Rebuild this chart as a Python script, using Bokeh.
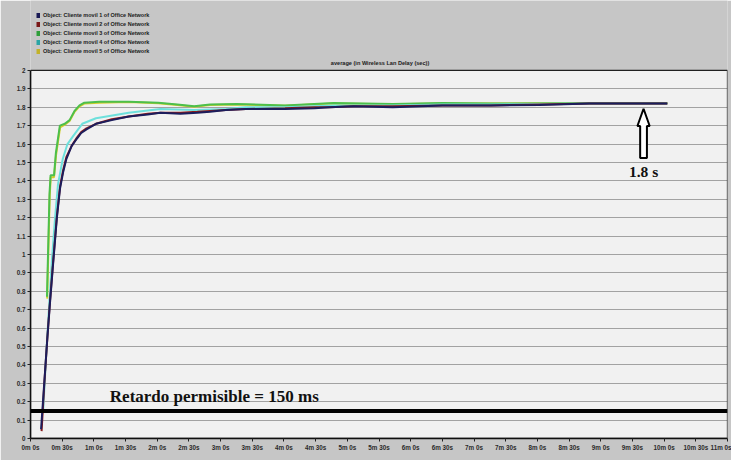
from bokeh.plotting import figure
from bokeh.models import FixedTicker, Label, Span, Legend, LegendItem, Range1d
from bokeh.embed import file_html
from bokeh.resources import INLINE

# ---------------- data (time in seconds, delay in seconds) ----------------
SERIES_NAMES = [
    "Object: Cliente movil 1 of Office Network",
    "Object: Cliente movil 2 of Office Network",
    "Object: Cliente movil 3 of Office Network",
    "Object: Cliente movil 4 of Office Network",
    "Object: Cliente movil 5 of Office Network",
]

T1 = [10, 13, 16, 18.5, 21, 25, 28, 31, 34, 39, 44, 48, 53, 62, 77, 93, 111, 123, 142, 158,
      170, 185, 204, 241, 269, 283, 306, 343, 390, 436, 482, 529, 575, 603]
V1 = [0.05, 0.30, 0.55, 0.74, 0.92, 1.20, 1.36, 1.45, 1.52, 1.59, 1.63, 1.66, 1.68, 1.71, 1.73,
      1.75, 1.76, 1.77, 1.765, 1.77, 1.775, 1.785, 1.79, 1.79, 1.795, 1.80, 1.805, 1.80, 1.81,
      1.81, 1.812, 1.82, 1.82, 1.82]

T2 = [10.5, 13, 16, 18.5, 21, 25, 28, 31, 34, 39, 44, 48, 53, 62, 77, 93, 111, 123, 142, 158,
      170, 185, 204, 241, 269, 283, 306, 343, 390, 436, 482, 529, 575, 603]
V2 = [0.04, 0.29, 0.55, 0.75, 0.93, 1.21, 1.37, 1.46, 1.53, 1.59, 1.635, 1.665, 1.685, 1.71,
      1.735, 1.75, 1.765, 1.77, 1.77, 1.775, 1.78, 1.785, 1.79, 1.795, 1.80, 1.80, 1.805, 1.805,
      1.81, 1.81, 1.815, 1.82, 1.82, 1.82]

T3 = [15.6, 18, 19, 22.3, 24, 27.8, 32.5, 37, 41.7, 46.4, 51, 65, 93, 121, 139, 155, 170, 195,
      241, 287, 343, 390, 436, 529, 603]
V3 = [0.77, 1.33, 1.43, 1.43, 1.55, 1.70, 1.71, 1.73, 1.78, 1.81, 1.825, 1.83, 1.83, 1.825,
      1.815, 1.805, 1.815, 1.818, 1.81, 1.823, 1.818, 1.823, 1.82, 1.822, 1.822]

T4 = [12, 14.8, 17.6, 20.4, 23, 26, 30.6, 35, 40, 49, 62, 93, 123, 155, 185, 204, 241, 287, 343,
      390, 436, 529, 603]
V4 = [0.15, 0.45, 0.72, 0.98, 1.18, 1.38, 1.52, 1.60, 1.64, 1.71, 1.74, 1.77, 1.79, 1.785, 1.79,
      1.80, 1.80, 1.81, 1.81, 1.815, 1.815, 1.82, 1.82]

T5 = [15.8, 18.2, 19.2, 22.3, 24.2, 28, 32.5, 37, 41.7, 46.4, 51, 65, 93, 121, 139, 155, 170,
      195, 241, 287, 343, 390, 436, 529, 603]
V5 = [0.76, 1.32, 1.42, 1.42, 1.54, 1.69, 1.705, 1.725, 1.775, 1.805, 1.82, 1.825, 1.828, 1.822,
      1.812, 1.803, 1.812, 1.815, 1.808, 1.82, 1.816, 1.82, 1.82, 1.821, 1.821]

THRESHOLD = 0.15  # 150 ms

X_MAX = 660
Y_MAX = 2.0
X_TICKS = [0, 30, 60, 90, 120, 150, 180, 210, 240, 270, 300, 330, 360, 390, 420, 450, 480, 510,
           540, 570, 600, 630, 660]
X_TICK_LABELS = ["0m 0s", "0m 30s", "1m 0s", "1m 30s", "2m 0s", "2m 30s", "3m 0s", "3m 30s",
                 "4m 0s", "4m 30s", "5m 0s", "5m 30s", "6m 0s", "6m 30s", "7m 0s", "7m 30s",
                 "8m 0s", "8m 30s", "9m 0s", "9m 30s", "10m 0s", "10m 30s", "11m 0s"]
Y_TICKS = [0.0, 0.1, 0.2, 0.3, 0.4, 0.5, 0.6, 0.7, 0.8, 0.9, 1.0, 1.1, 1.2, 1.3, 1.4, 1.5, 1.6,
           1.7, 1.8, 1.9, 2.0]
Y_TICK_LABELS = ["0", "0.1", "0.2", "0.3", "0.4", "0.5", "0.6", "0.7", "0.8", "0.9", "1", "1.1",
                 "1.2", "1.3", "1.4", "1.5", "1.6", "1.7", "1.8", "1.9", "2"]

LINE_COLORS = ["#1c1d5c", "#8a1c1c", "#4cbf4c", "#6ee0dc", "#d6cf2a"]
SWATCH_COLORS = ["#1a1a55", "#7a1818", "#2f9e3a", "#2aa5a5", "#c2b22a"]

PANEL_GREY = "#c6c6c6"
PLOT_BG = "#f1f1f1"

# ---------------- figure ----------------
# the frame extends above the data area (y > 2) so that legend and title live inside it
p = figure(width=731, height=460, output_backend="svg", toolbar_location=None,
           x_range=Range1d(0, X_MAX), y_range=Range1d(0, 2.38),
           min_border_left=30, min_border_right=4, min_border_top=0, min_border_bottom=22)
p.title.visible = False
p.background_fill_color = PANEL_GREY
p.border_fill_color = PANEL_GREY
p.outline_line_color = None

# light plotting area (under the grid)
bg = p.quad(left=[0], right=[X_MAX], bottom=[0], top=[Y_MAX], fill_color=PLOT_BG, line_color=None)
bg.level = "image"

p.xgrid.visible = False
p.ygrid.ticker = FixedTicker(ticks=Y_TICKS[1:-1])
p.ygrid.grid_line_color = "#a2a2a2"
p.ygrid.grid_line_width = 1.2

p.xaxis.ticker = FixedTicker(ticks=X_TICKS)
p.xaxis.major_label_overrides = dict(zip(X_TICKS, X_TICK_LABELS))
p.yaxis.ticker = FixedTicker(ticks=Y_TICKS)
p.yaxis.major_label_overrides = dict(zip(Y_TICKS, Y_TICK_LABELS))
p.yaxis.bounds = (0, Y_MAX)
for ax in (p.xaxis, p.yaxis):
    ax.axis_line_color = "#101010"
    ax.axis_line_width = 1.5
    ax.major_tick_in = 0
    ax.major_tick_out = 3
    ax.minor_tick_line_color = None
    ax.major_tick_line_color = "#202020"
    ax.major_label_text_font = "Liberation Sans"
    ax.major_label_text_font_style = "bold"
    ax.major_label_text_font_size = "6.3px"
    ax.major_label_text_color = "#2a2a2a"
    ax.major_label_standoff = 2

# ---------------- series ----------------
data = [(T1, V1), (T2, V2), (T3, V3), (T4, V4), (T5, V5)]
for idx in [4, 2, 3, 1, 0]:
    t, v = data[idx]
    p.line(t, v, line_color=LINE_COLORS[idx], line_width=2)

# threshold line
p.add_layout(Span(location=THRESHOLD, dimension="width", line_color="black", line_width=4))

# border of the plotting area
p.quad(left=[0], right=[X_MAX], bottom=[0], top=[Y_MAX], fill_alpha=0,
       line_color="#202020", line_width=1.3)

# ---------------- legend (colour swatches) ----------------
# one-point lines draw nothing in the plot; their thick legend glyph forms the swatch
items = []
for i, name in enumerate(SERIES_NAMES):
    t, v = data[i]
    r = p.line(x=t[:1], y=v[:1], line_color=SWATCH_COLORS[i], line_width=5)
    items.append(LegendItem(label=name, renderers=[r]))
legend = Legend(items=items, location=(6, 383.5), orientation="vertical",
                glyph_width=4, glyph_height=8, label_height=8, spacing=1,
                padding=0, margin=0, label_standoff=3,
                label_text_font="Liberation Sans", label_text_font_style="bold",
                label_text_font_size="5.5px", label_text_color="#202020",
                background_fill_alpha=0, border_line_alpha=0)
p.add_layout(legend)

# ---------------- annotations ----------------
p.add_layout(Label(x=331, y=2.039, text="average (in Wireless Lan Delay (sec))",
                   text_align="center", text_baseline="middle",
                   text_font="Liberation Sans", text_font_style="bold",
                   text_font_size="5.6px", text_color="#202020"))

p.add_layout(Label(x=75.1, y=0.23, text="Retardo permisible = 150 ms",
                   text_align="left", text_baseline="alphabetic",
                   text_font="Liberation Serif", text_font_style="bold",
                   text_font_size="17px", text_color="#111111"))

ARROW_X = 580.5
TIP, HEAD_BASE, TAIL = 1.792, 1.698, 1.524
HEAD_HW, SHAFT_HW = 5.8, 3.2
ax_pts = [ARROW_X, ARROW_X + HEAD_HW, ARROW_X + SHAFT_HW, ARROW_X + SHAFT_HW,
          ARROW_X - SHAFT_HW, ARROW_X - SHAFT_HW, ARROW_X - HEAD_HW]
ay_pts = [TIP, HEAD_BASE, HEAD_BASE, TAIL, TAIL, HEAD_BASE, HEAD_BASE]
p.patch(ax_pts, ay_pts, fill_color="white", line_color="black", line_width=2)

p.add_layout(Label(x=ARROW_X, y=1.45, text="1.8 s",
                   text_align="center", text_baseline="alphabetic",
                   text_font="Liberation Serif", text_font_style="bold",
                   text_font_size="15.5px", text_color="#111111"))

open("out.html", "w").write(file_html(p, INLINE))
